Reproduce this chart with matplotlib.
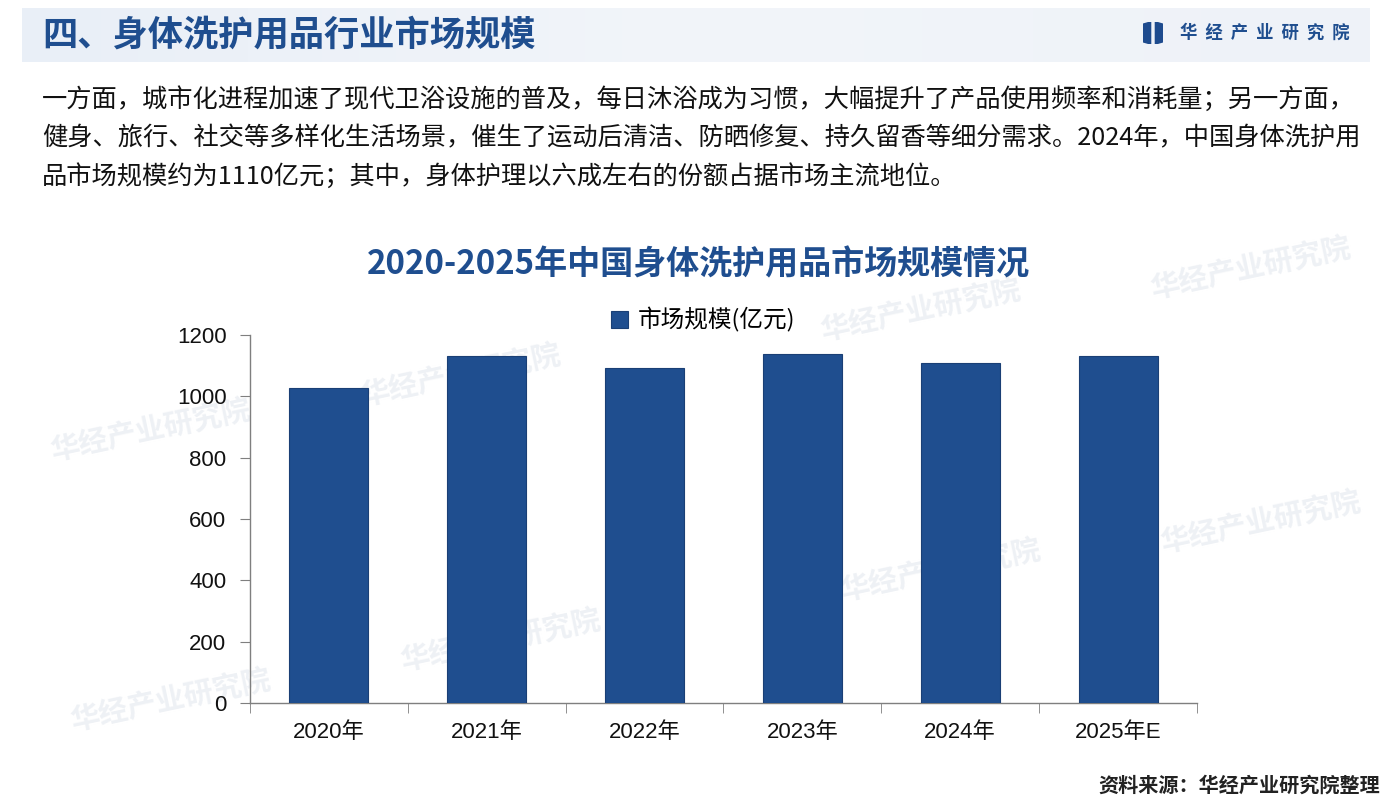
import matplotlib
matplotlib.use("Agg")
import matplotlib.pyplot as plt
from matplotlib.patches import Polygon
from matplotlib.colors import LinearSegmentedColormap
import numpy as np

plt.rcParams['font.family'] = ['Noto Sans CJK SC', 'DejaVu Sans']

# ---- data ----
categories = ["2020年", "2021年", "2022年", "2023年", "2024年", "2025年E"]
market_size = [1027, 1131, 1092, 1138, 1110, 1131]
y_ticks = [0, 200, 400, 600, 800, 1000, 1200]
series_name = "市场规模(亿元)"
page_title = "四、身体洗护用品行业市场规模"
chart_title = "2020-2025年中国身体洗护用品市场规模情况"
brand = "华经产业研究院"
source_note = "资料来源：华经产业研究院整理"
paragraph = [
    "一方面，城市化进程加速了现代卫浴设施的普及，每日沐浴成为习惯，大幅提升了产品使用频率和消耗量；另一方面，",
    "健身、旅行、社交等多样化生活场景，催生了运动后清洁、防晒修复、持久留香等细分需求。2024年，中国身体洗护用",
    "品市场规模约为1110亿元；其中，身体护理以六成左右的份额占据市场主流地位。",
]

W, H = 1396, 806
BLUE = "#1F4E8F"
fig = plt.figure(figsize=(W / 100, H / 100), dpi=100)
fig.patch.set_facecolor("white")

def fx(px):
    return px / W

def fy(py):
    return 1 - py / H

# header band (gradient)
band = fig.add_axes([fx(22), fy(62), fx(1370 - 22), (62 - 8) / H], zorder=0)
grad = np.linspace(0, 1, 256).reshape(1, -1)
cmap = LinearSegmentedColormap.from_list("hb", ["#E9EFF7", "#F2F5FA", "#EEF2F8"])
band.imshow(grad, aspect="auto", cmap=cmap, extent=[0, 1, 0, 1])
band.set_axis_off()

# watermarks
wm_positions = [(1250, 268), (920, 310), (460, 375), (150, 430), (1260, 522),
                (940, 570), (500, 640), (170, 700)]
for (x, y) in wm_positions:
    fig.text(fx(x), fy(y), brand, fontsize=21, color="#D5DCE6", alpha=0.4,
             rotation=12, ha="center", va="center", fontweight="bold", zorder=0)

fig.text(fx(42), fy(35), page_title, fontsize=25.4, fontweight="bold", color=BLUE,
         ha="left", va="center")

# logo
logo = fig.add_axes([fx(1143), fy(44), fx(20), 22 / H], zorder=3)
logo.add_patch(Polygon([(0, 0.1), (0.38, 0.0), (0.38, 1.0), (0, 0.9)], color="#1E4B8E"))
logo.add_patch(Polygon([(0.62, 0.0), (1.0, 0.1), (1.0, 0.9), (0.62, 1.0)], color="#1E4B8E"))
logo.set_xlim(0, 1)
logo.set_ylim(0, 1)
logo.set_axis_off()
fig.text(fx(1180), fy(33), "  ".join(list(brand)), fontsize=12.5, fontweight="bold",
         color=BLUE, ha="left", va="center")

for i, line in enumerate(paragraph):
    fig.text(fx(42), fy(100 + i * 38.5), line, fontsize=18.2, color="#111111",
             ha="left", va="center")

fig.text(fx(698), fy(265), chart_title, fontsize=23.8, fontweight="bold", color=BLUE,
         ha="center", va="center")

# chart axes
ax = fig.add_axes([fx(250), fy(703), fx(1197 - 250), (703 - 335) / H], zorder=2)
ax.patch.set_alpha(0)
x = np.arange(len(categories))
bars = ax.bar(x, market_size, width=0.5, color=BLUE, edgecolor="#1A3F75",
              linewidth=0.8, label=series_name, zorder=3)
ax.set_xlim(-0.5, len(categories) - 0.5)
ax.set_ylim(0, 1200)
ax.set_yticks(y_ticks)
ax.set_yticklabels([str(v) for v in y_ticks], fontsize=16,
                   family=['Liberation Sans', 'Noto Sans CJK SC'], color="#111111")
ax.set_xticks(x)
ax.set_xticklabels(categories, fontsize=16,
                   family=['Liberation Sans', 'Noto Sans CJK SC'], color="#111111")
ax.set_xticks(np.arange(-0.5, len(categories), 1.0), minor=True)
ax.tick_params(axis="x", which="major", length=0, pad=14)
ax.tick_params(axis="x", which="minor", length=7, color="#7F7F7F", direction="out")
ax.tick_params(axis="y", length=7, color="#7F7F7F", direction="out", pad=10)
for s in ["top", "right"]:
    ax.spines[s].set_visible(False)
for s in ["left", "bottom"]:
    ax.spines[s].set_color("#7F7F7F")
    ax.spines[s].set_linewidth(1.0)

fig.legend(handles=[bars], labels=[series_name], loc="center",
           bbox_to_anchor=(fx(703), fy(320)), frameon=False, fontsize=17,
           handlelength=0.75, handleheight=0.75, handletextpad=0.4)

fig.text(fx(1380), fy(785), source_note, fontsize=14.5, fontweight="bold",
         color="#222222", ha="right", va="center")

fig.savefig("out.png", dpi=100, facecolor="white")
